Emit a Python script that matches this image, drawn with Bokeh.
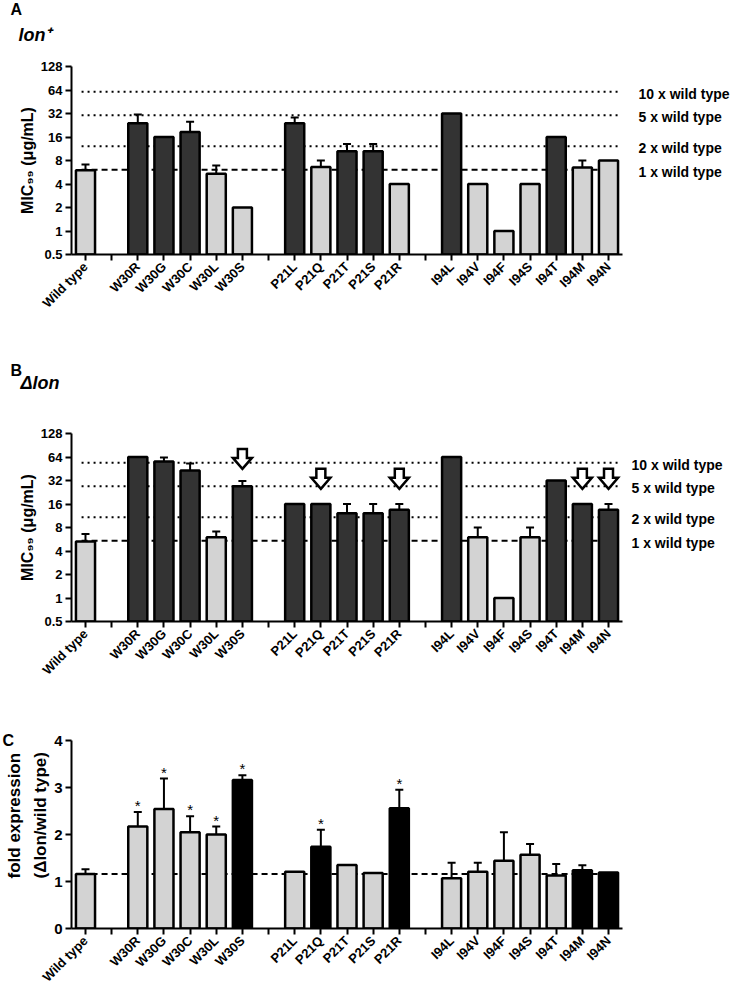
import math
from bokeh.plotting import figure
from bokeh.models import ColumnDataSource, FixedTicker, Range1d, Whisker, TeeHead, LogAxis, Title
from bokeh.layouts import column
from bokeh.embed import file_html
from bokeh.resources import INLINE
from bokeh.core.properties import value

# ---------------- data ----------------
groups = [["Wild type"],
          ["W30R", "W30G", "W30C", "W30L", "W30S"],
          ["P21L", "P21Q", "P21T", "P21S", "P21R"],
          ["I94L", "I94V", "I94F", "I94S", "I94T", "I94M", "I94N"]]

mic_lon_plus = [6.0, 24, 16, 18.5, 5.4, 2, 24, 6.6, 10.5, 10.5, 4, 32, 4, 1, 4, 16, 6.5, 8]
err_lon_plus = [7.1, 31, None, 25, 6.9, None, 28.5, 8.0, 13, 13, None, None, None, None, None, None, 8.0, None]
dark_A = ["W30R", "W30G", "W30C", "P21L", "P21T", "P21S", "I94L", "I94T"]

mic_delta_lon = [5.3, 64, 56, 43, 6.0, 27, 16, 16, 12.2, 12.2, 13.5, 64, 6.0, 1, 6.0, 32, 16, 13.5]
err_delta_lon = [6.6, None, 63, 53, 7.1, 31.5, None, None, 16, 16, 16, None, 8, None, 8, None, None, 16]
light_B = ["Wild type", "W30L", "I94V", "I94F", "I94S"]
arrow_strains = ["W30S", "P21Q", "P21R", "I94M", "I94N"]
arrow_tips = [45, 25, 25, 25, 25]

fold_expr = [1.16, 2.17, 2.54, 2.05, 2.00, 3.16, 1.21, 1.74, 1.35, 1.18, 2.56, 1.07, 1.21, 1.44, 1.57, 1.13, 1.24, 1.19]
fold_err = [1.26, 2.48, 3.19, 2.39, 2.17, 3.26, None, 2.10, None, None, 2.95, 1.40, 1.40, 2.05, 1.80, 1.37, 1.345, None]
black_C = ["W30S", "P21Q", "P21R", "I94M", "I94N"]
significant_C = ["W30R", "W30G", "W30C", "W30L", "W30S", "P21Q", "P21R"]

wt_mic_A = 6.1
wt_mic_B = 5.4
wt_fold_C = 1.16
fold_levels = [1, 2, 5, 10]
fold_labels = ["1 x wild type", "2 x wild type", "5 x wild type", "10 x wild type"]

log_ticks = [0.5, 1, 2, 4, 8, 16, 32, 64, 128]
log_tick_labels = ["0.5", "1", "2", "4", "8", "16", "32", "64", "128"]
lin_ticks = [0, 1, 2, 3, 4]
lin_tick_labels = ["0", "1", "2", "3", "4"]

# ---------------- layout helpers ----------------
strains = [s for g in groups for s in g]
slots, gap_slots = [], []
pos = 0
for gi, g in enumerate(groups):
    for s in g:
        slots.append(pos)
        pos += 1
    if gi < len(groups) - 1:
        gap_slots.append(pos)
        pos += 1
n_slots = pos
slot_of = dict(zip(strains, slots))

FONT = "Liberation Sans"
TOTAL_W = 734
X0, X1 = -0.535, n_slots - 1 + 0.535
FW, FH = 551, 188
PPX = FW / (X1 - X0)
DARK, LIGHT, BLACK = "#333333", "#d3d3d3", "#000000"
BAR_W = 0.73


def style_axis(ax):
    ax.axis_line_width = 2
    ax.axis_line_color = "black"
    ax.major_tick_line_width = 2
    ax.major_tick_line_color = "black"
    ax.major_tick_out = 6
    ax.major_tick_in = 0
    ax.minor_tick_line_color = None
    ax.major_label_text_font = FONT
    ax.major_label_text_font_style = "bold"
    ax.major_label_text_color = "black"
    ax.axis_label_text_font = FONT
    ax.axis_label_text_font_style = "bold"
    ax.axis_label_text_color = "black"


def make_fig(height, left, top, log):
    kw = dict(frame_width=FW, frame_height=FH,
              min_border_left=left, min_border_right=TOTAL_W - left - FW,
              min_border_top=top, min_border_bottom=height - top - FH,
              x_range=Range1d(X0, X1),
              output_backend="svg", toolbar_location=None)
    if log:
        p = figure(y_axis_type="log", y_range=Range1d(0.5, 128), **kw)
    else:
        p = figure(y_range=Range1d(0, 4), **kw)
    p.outline_line_color = None
    p.xgrid.visible = False
    p.ygrid.visible = False
    for ax in (p.xaxis[0], p.yaxis[0]):
        style_axis(ax)
    xa = p.xaxis[0]
    xa.ticker = FixedTicker(ticks=list(range(n_slots)))
    ov = {s: name for s, name in zip(slots, strains)}
    for g in gap_slots:
        ov[g] = ""
    xa.major_label_overrides = ov
    xa.major_label_orientation = math.pi / 4
    xa.major_label_text_font_size = "13px"
    xa.major_label_standoff = 4
    ya = p.yaxis[0]
    if log:
        ya.ticker = FixedTicker(ticks=log_ticks)
        ya.major_label_overrides = dict(zip(log_ticks, log_tick_labels))
        ya.major_label_text_font_size = "13px"
    else:
        ya.ticker = FixedTicker(ticks=lin_ticks)
        ya.major_label_overrides = dict(zip(lin_ticks, lin_tick_labels))
        ya.major_label_text_font_size = "15px"
    ya.major_label_standoff = 3
    return p


def add_title(p, text, size, style, offset, standoff, side="above"):
    p.add_layout(Title(text=text, text_font=FONT, text_font_size=size, text_font_style=style,
                       text_color="black", align="left", offset=offset, standoff=standoff),
                 side)


def bars(p, vals, errs, colors, base):
    src = ColumnDataSource(dict(x=slots, top=vals, color=colors))
    wi = [i for i, e in enumerate(errs) if e is not None]
    wsrc = ColumnDataSource(dict(x=[slots[i] for i in wi],
                                 lo=[vals[i] for i in wi],
                                 hi=[errs[i] for i in wi]))
    p.add_layout(Whisker(source=wsrc, base="x", lower="lo", upper="hi", dimension="height",
                         line_width=2, line_color="black",
                         upper_head=TeeHead(size=8, line_width=2, line_color="black"),
                         lower_head=None))
    p.vbar(x="x", top="top", bottom=base, width=BAR_W, source=src,
           fill_color="color", line_color="black", line_width=2.5)


def ref_lines(p, wt, standoff):
    levels = [wt * f for f in fold_levels]
    dotted = [lv for lv, f in zip(levels, fold_levels) if f != 1]
    p.segment(x0=-0.15, x1=n_slots - 1 + 0.35, y0=dotted, y1=dotted,
              line_color="black", line_width=2, line_dash="2 4")
    p.segment(x0=[-0.15], x1=[n_slots - 1 + 0.35], y0=[wt], y1=[wt],
              line_color="black", line_width=2, line_dash="6 4")
    ra = LogAxis()
    style_axis(ra)
    ra.axis_line_color = None
    ra.major_tick_line_color = None
    ra.ticker = FixedTicker(ticks=[lv * 0.94 for lv in levels])
    ra.major_label_overrides = {lv * 0.94: t for lv, t in zip(levels, fold_labels)}
    ra.major_label_text_font_size = "14px"
    ra.major_label_standoff = standoff
    p.add_layout(ra, "right")


PPY_LOG = FH / 8.0

# ---------------- panel A ----------------
pA = make_fig(height=322, left=61, top=65, log=True)
ref_lines(pA, wt_mic_A, 10)
bars(pA, mic_lon_plus, err_lon_plus, [DARK if s in dark_A else LIGHT for s in strains], 0.5)
pA.yaxis[0].axis_label = "MIC\u2089\u2089 (\u03bcg/mL)"
pA.yaxis[0].axis_label_text_font_size = "16px"
pA.yaxis[0].axis_label_standoff = 2
add_title(pA, "lon\u207a", "18px", "bold italic", -53, 44)
add_title(pA, "A", "16px", "bold", -61, -35)

# ---------------- panel B ----------------
pB = make_fig(height=357, left=62, top=110, log=True)
ref_lines(pB, wt_mic_B, 3)
bars(pB, mic_delta_lon, err_delta_lon, [LIGHT if s in light_B else DARK for s in strains], 0.5)
pB.yaxis[0].axis_label = "MIC\u2089\u2089 (\u03bcg/mL)"
pB.yaxis[0].axis_label_text_font_size = "16px"
pB.yaxis[0].axis_label_standoff = 2
add_title(pB, "\u0394lon", "18px", "bold italic", -51, 82)
add_title(pB, "B", "16px", "bold", -61, -98)

hw, sw, hh, sh = 9.5 / PPX, 4.5 / PPX, 11.0, 20.0
axs, ays = [], []
for s, t in zip(arrow_strains, arrow_tips):
    xc = slot_of[s]
    f1, f2 = 2 ** (hh / PPY_LOG), 2 ** (sh / PPY_LOG)
    axs.append([xc, xc + hw, xc + sw, xc + sw, xc - sw, xc - sw, xc - hw])
    ays.append([t, t * f1, t * f1, t * f2, t * f2, t * f1, t * f1])
pB.patches(xs=axs, ys=ays, fill_color="white", line_color="black", line_width=2.5,
           line_join="miter")

# ---------------- panel C ----------------
PPY_LIN = FH / 4.0
pC = make_fig(height=307, left=70, top=55, log=False)
pC.segment(x0=[-0.15], x1=[n_slots - 1 + 0.35], y0=[wt_fold_C], y1=[wt_fold_C],
           line_color="black", line_width=2, line_dash="6 4")
bars(pC, fold_expr, fold_err, [BLACK if s in black_C else LIGHT for s in strains], 0)
add_title(pC, "(\u0394lon/wild type)", "17px", "bold", 50, 4, side="left")
add_title(pC, "fold expression", "17px", "bold", 50, 5, side="left")
add_title(pC, "C", "16px", "bold", -69, -16)
sx = [slot_of[s] for s in significant_C]
sy = [fold_err[strains.index(s)] + 6.5 / PPY_LIN for s in significant_C]
pC.text(x=sx, y=sy, text=["*"] * len(sx), text_font=value(FONT), text_font_size="15px",
        text_align="center", text_baseline="middle", text_color="black")

layout = column(pA, pB, pC, spacing=0)
open("out.html", "w").write(file_html(layout, INLINE))
